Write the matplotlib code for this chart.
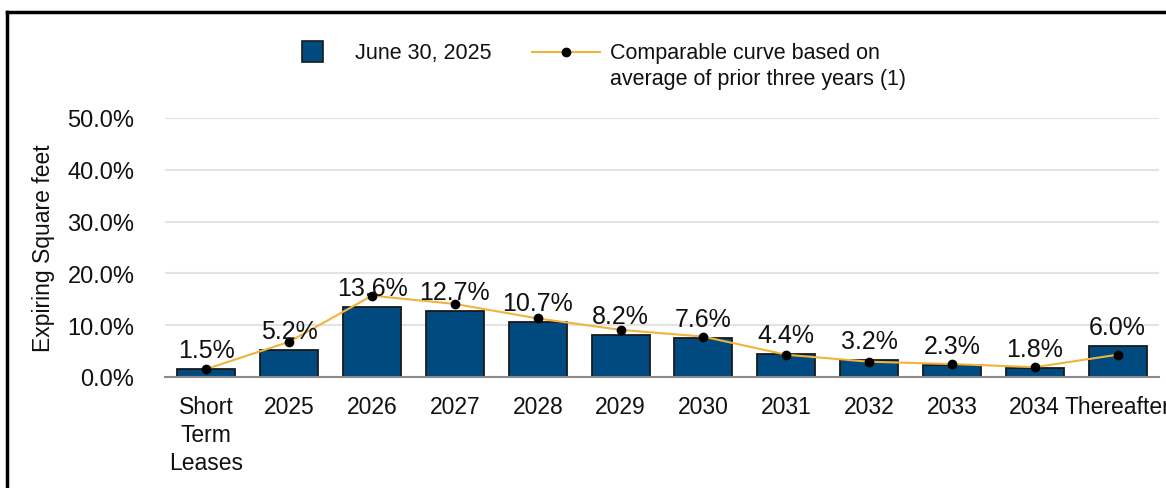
import matplotlib
matplotlib.use("Agg")
import matplotlib.pyplot as plt
from matplotlib.lines import Line2D
from matplotlib.patches import Rectangle

plt.rcParams['font.family'] = ['Liberation Sans', 'DejaVu Sans']

categories = ["Short\nTerm\nLeases", "2025", "2026", "2027", "2028", "2029",
              "2030", "2031", "2032", "2033", "2034", "Thereafter"]
bar_values = [1.5, 5.2, 13.6, 12.7, 10.7, 8.2, 7.6, 4.4, 3.2, 2.3, 1.8, 6.0]
curve_values = [1.55, 6.8, 15.7, 14.1, 11.3, 9.1, 7.8, 4.3, 2.95, 2.5, 1.9, 4.3]
yticks = [0, 10, 20, 30, 40, 50]
ytick_labels = ["0.0%", "10.0%", "20.0%", "30.0%", "40.0%", "50.0%"]

W, H = 1166, 489
fig = plt.figure(figsize=(W / 100, H / 100), dpi=100)
ax = fig.add_axes([165 / W, 1 - 378 / H, (1159 - 165) / W, (378 - 119) / H])

bar_color = "#004A80"
line_color = "#F2B33D"

x = list(range(len(categories)))
ax.bar(x, bar_values, width=0.7, color=bar_color, edgecolor="#1a1a1a",
       linewidth=1.3, zorder=2)
ax.plot(x, curve_values, color=line_color, linewidth=1.5, marker="o",
        markersize=6, markerfacecolor="black", markeredgecolor="black", zorder=3)

for xi, v in zip(x, bar_values):
    ax.annotate(f"{v:.1f}%", (xi, v), xytext=(0, 5), textcoords="offset points",
                ha="center", va="bottom", fontsize=18, color="#111111", zorder=4)

ax.set_xlim(-0.5, len(categories) - 0.5)
ax.set_ylim(0, 50)
ax.set_yticks(yticks)
ax.set_yticklabels(ytick_labels, fontsize=17, color="#111111")
ax.set_xticks(x)
ax.set_xticklabels(categories, fontsize=16.5, color="#111111", linespacing=1.28)
ax.tick_params(axis="y", length=0, pad=22)
ax.tick_params(axis="x", length=0, pad=13)
ax.set_ylabel("Expiring Square feet", fontsize=16.5, color="#111111")
ax.yaxis.set_label_coords(-0.111, 0.5)

ax.grid(axis="y", color="#e3e3e3", linewidth=1.5, zorder=0)
ax.set_axisbelow(True)
for s in ["top", "right", "left"]:
    ax.spines[s].set_visible(False)
ax.spines["bottom"].set_color("#8a8a8a")
ax.spines["bottom"].set_linewidth(1.5)
ax.spines["bottom"].set_zorder(5)

# Legend (manual)
fig.patches.append(Rectangle((302 / W, 1 - 63 / H), 21 / W, 21 / H,
                             transform=fig.transFigure, facecolor=bar_color,
                             edgecolor="#1a1a1a", linewidth=1.2))
fig.text(355 / W, 1 - 53 / H, "June 30, 2025", fontsize=15.5, color="#111111",
         va="center", ha="left")
fig.lines.append(Line2D([532 / W, 600 / W], [1 - 53 / H, 1 - 53 / H],
                        transform=fig.transFigure, color=line_color, linewidth=1.5))
fig.lines.append(Line2D([566 / W], [1 - 53 / H], transform=fig.transFigure,
                        marker="o", markersize=6, color="black", linestyle="none"))
fig.text(610 / W, 1 - 66.5 / H,
         "Comparable curve based on\naverage of prior three years (1)",
         fontsize=15.5, color="#111111", va="center", ha="left", linespacing=1.25)

# Partial frame border (top and left)
fig.lines.append(Line2D([7 / W, 1], [1 - 13 / H, 1 - 13 / H],
                        transform=fig.transFigure, color="black", linewidth=2.5))
fig.lines.append(Line2D([7 / W, 7 / W], [0, 1 - 13 / H],
                        transform=fig.transFigure, color="black", linewidth=2.5))

fig.savefig("out.png", dpi=100)
